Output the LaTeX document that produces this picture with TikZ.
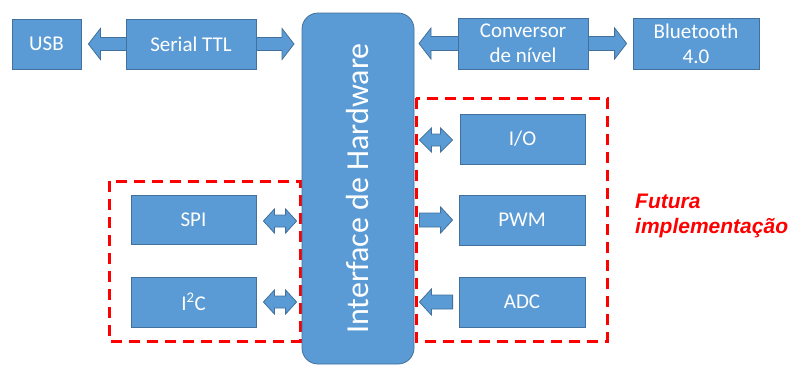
\documentclass[tikz,border=0pt]{standalone}
\usepackage{fontspec}
\setmainfont{Carlito}
\newfontfamily\redfont{Liberation Sans}
\usetikzlibrary{calc}
\definecolor{boxblue}{HTML}{5B9BD5}
\definecolor{boxedge}{HTML}{41719C}
\definecolor{futred}{HTML}{FF0000}
% double block arrow: #1 left tip, #2 right tip, #3 head half-width, #4 shaft half-width, #5 head length
\newcommand{\dblarr}[5]{\draw[barrow] let \p1=#1, \p2=#2 in
 (\x1,\y1) -- ({\x1+#5pt},{\y1+#3pt}) -- ({\x1+#5pt},{\y1+#4pt}) -- ({\x2-#5pt},{\y1+#4pt}) -- ({\x2-#5pt},{\y1+#3pt}) -- (\x2,\y1)
 -- ({\x2-#5pt},{\y1-#3pt}) -- ({\x2-#5pt},{\y1-#4pt}) -- ({\x1+#5pt},{\y1-#4pt}) -- ({\x1+#5pt},{\y1-#3pt}) -- cycle;}
% right-pointing arrow: #1 tail, #2 tip
\newcommand{\rarr}[5]{\draw[barrow] let \p1=#1, \p2=#2 in
 (\x1,{\y1+#4pt}) -- ({\x2-#5pt},{\y1+#4pt}) -- ({\x2-#5pt},{\y1+#3pt}) -- (\x2,\y1)
 -- ({\x2-#5pt},{\y1-#3pt}) -- ({\x2-#5pt},{\y1-#4pt}) -- (\x1,{\y1-#4pt}) -- cycle;}
% left-pointing arrow: #1 tip, #2 tail
\newcommand{\larr}[5]{\draw[barrow] let \p1=#1, \p2=#2 in
 (\x1,\y1) -- ({\x1+#5pt},{\y1+#3pt}) -- ({\x1+#5pt},{\y1+#4pt}) -- (\x2,{\y1+#4pt})
 -- (\x2,{\y1-#4pt}) -- ({\x1+#5pt},{\y1-#4pt}) -- ({\x1+#5pt},{\y1-#3pt}) -- cycle;}
\begin{document}
\begin{tikzpicture}[x=1pt,y=-1pt,
 blk/.style={draw=boxedge, line width=0.8pt, fill=boxblue, text=white,
   font=\fontsize{21}{25}\selectfont, align=center, inner sep=0pt},
 barrow/.style={draw=boxedge, line width=0.8pt, fill=boxblue},
 futbox/.style={draw=futred, line width=3pt, dash pattern=on 11pt off 7pt},
 futtext/.style={text=futred, font=\redfont\bfseries\itshape\fontsize{21}{25}\selectfont, align=left, inner sep=0pt}]
\useasboundingbox (0,0) rectangle (791,365);

% dashed groups
\draw[futbox] (109,181) rectangle (300,341);
\draw[futbox] (416,98) rectangle (607,341);

% boxes
\node[blk, minimum width=69, minimum height=50] (usb) at (46.5,44) {USB};
\node[blk, minimum width=126, minimum height=51] (bt) at (696,43.5) {Bluetooth\\4.0};
\node[blk, minimum width=125, minimum height=49] (spi) at (193.5,219.5) {SPI};
\node[blk, minimum width=125, minimum height=50] (i2c) at (193.5,302) {I\textsuperscript{2}C};
\node[blk, minimum width=125, minimum height=50] (io) at (522.5,139) {I/O};
\node[blk, minimum width=126, minimum height=50] (pwm) at (522,220) {PWM};
\node[blk, minimum width=126, minimum height=50] (adc) at (522,302) {ADC};
\coordinate (ifw) at (302,0);
\coordinate (ife) at (414,0);

% top double arrows (behind the middle boxes)
\dblarr{($(usb.east)+(7,0)$)}{($(ifw|-usb.east)+(-8,0)$)}{15.5}{6.5}{12}
\dblarr{($(ife|-bt.west)+(5,0)$)}{($(bt.west)+(-6,0)$)}{15.5}{7}{12}

\node[blk, minimum width=130, minimum height=50] (serial) at (191,44) {Serial TTL};
\node[blk, minimum width=130, minimum height=51] (conv) at (523,43.5) {Conversor\\de nível};

% interface block
\node[blk, rounded corners=16pt, minimum width=112, minimum height=351] (iface) at (358,188.5) {};
\node[text=white, font=\fontsize{32}{38}\selectfont, rotate=90, inner sep=0pt] (iftext) at (iface.center) {Interface de Hardware};

% small arrows
\dblarr{($(spi.east)+(7,1.5)$)}{($(iface.west|-spi.east)+(-5,1.5)$)}{12}{6}{11}
\dblarr{($(i2c.east)+(7,0)$)}{($(iface.west|-i2c.east)+(-5,0)$)}{12}{6}{11}
\dblarr{($(iface.east|-io.west)+(5,1)$)}{($(io.west)+(-7,1)$)}{12}{6}{12}
\rarr{($(iface.east|-pwm.west)+(5,0)$)}{($(pwm.west)+(-6,0)$)}{13}{7}{12}
\larr{($(iface.east|-adc.west)+(5,0)$)}{($(adc.west)+(-6,0)$)}{13}{7}{12}

% label
\node[futtext, anchor=north west] (fut) at (635,194) {Futura\\implementação};
\end{tikzpicture}
\end{document}
